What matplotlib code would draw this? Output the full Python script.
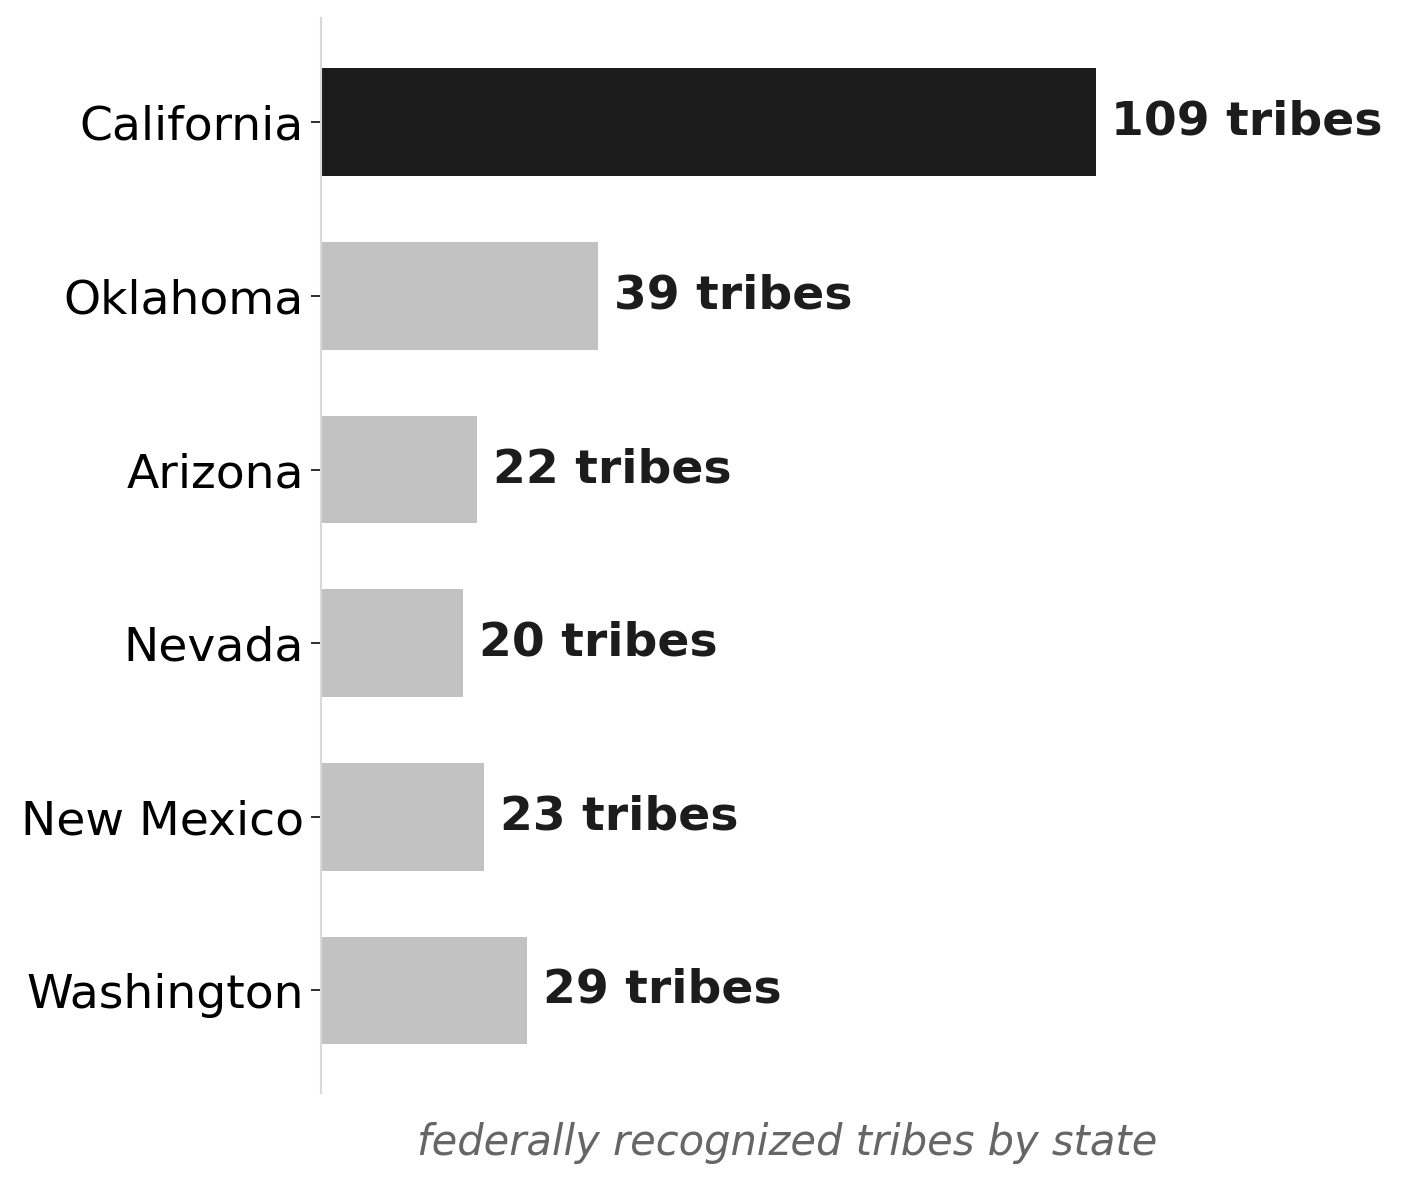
import matplotlib
matplotlib.use("Agg")
import matplotlib.pyplot as plt

states = ["California", "Oklahoma", "Arizona", "Nevada", "New Mexico", "Washington"]
tribes = [109, 39, 22, 20, 23, 29]
highlight = "California"


def create_graph():
	fig = plt.figure(figsize=(14.03, 11.84), dpi=100)
	ax = fig.add_axes([0.2288, 0.0769, 0.893 - 0.2288, 0.9848 - 0.0769])

	colors = ["#1c1c1c" if s == highlight else "#c2c2c2" for s in states]
	ypos = list(range(len(states)))
	ax.barh(ypos, tribes, height=0.62, color=colors, zorder=2)

	for y, v in zip(ypos, tribes):
		ax.text(v + 2.2, y, f"{v} tribes", va="center", ha="left",
			fontsize=34, fontweight="bold", color="#1c1c1c")

	ax.set_yticks(ypos)
	ax.set_yticklabels(states, fontsize=34)
	ax.set_ylim(5.59, -0.6)
	ax.set_xlim(0, max(tribes) * 1.203)
	ax.set_xticks([])

	for side in ["top", "right", "bottom"]:
		ax.spines[side].set_visible(False)
	ax.spines["left"].set_color("#d9d9d9")
	ax.spines["left"].set_linewidth(1.5)
	ax.tick_params(axis="y", length=7, width=1.3, color="#1c1c1c", pad=5.5)

	ax.set_xlabel("federally recognized tribes by state", fontsize=30,
		style="italic", color="#666666", labelpad=21)

	fig.savefig("out.png", dpi=100)


if __name__ == '__main__':
	create_graph()
